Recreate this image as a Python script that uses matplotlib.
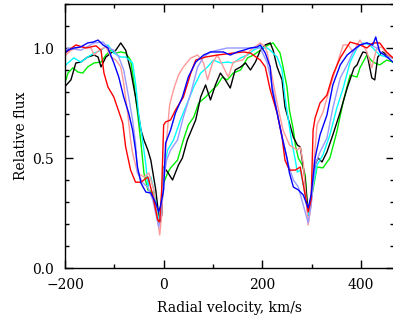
import numpy as np
import matplotlib
matplotlib.use('Agg')
from matplotlib import pyplot as plt
from matplotlib.ticker import MultipleLocator

# spectra: radial velocity (km/s) and relative flux
v_red = [-198, -178, -158, -137, -127, -121, -113, -101, -83, -77, -67, -57, -46, -32, -22, -12, -8, -4, 0, 4,
         14, 24, 40, 55, 65, 85, 109, 141, 162, 176, 196, 206, 216, 230, 240, 246, 255, 267, 277, 285,
         293, 299, 303, 307, 317, 331, 343, 358, 378, 398, 412, 424, 438, 452, 465]
f_red = [0.98, 1.014, 1.0, 1.01, 0.99, 0.886, 0.823, 0.777, 0.659, 0.55, 0.445, 0.39, 0.39, 0.414, 0.33, 0.218, 0.21, 0.355, 0.65, 0.664,
         0.673, 0.718, 0.777, 0.886, 0.945, 0.959, 0.968, 0.977, 0.982, 0.977, 0.945, 0.914, 0.81, 0.705, 0.595, 0.49, 0.445, 0.445, 0.459, 0.355,
         0.255, 0.31, 0.627, 0.682, 0.75, 0.786, 0.877, 0.955, 1.027, 1.014, 1.0, 1.023, 1.023, 0.982, 0.955]

v_black = [-198, -188, -178, -168, -154, -141, -133, -127, -117, -107, -97, -87, -77, -67, -57, -46, -40, -32, -26, -16,
           -12, -8, -4, 0, 8, 18, 30, 38, 48, 65, 75, 85, 95, 105, 115, 125, 135, 145, 156, 166,
           176, 186, 196, 206, 216, 222, 230, 240, 246, 255, 263, 271, 277, 287, 293, 299, 307, 313, 321, 331,
           343, 358, 372, 386, 392, 398, 404, 412, 422, 428, 434, 444, 459, 465]
f_black = [0.83, 0.855, 0.932, 0.936, 0.959, 0.968, 0.959, 0.914, 0.959, 0.977, 0.99, 1.023, 0.99, 0.9, 0.777, 0.627, 0.582, 0.536, 0.49, 0.355,
           0.277, 0.205, 0.24, 0.459, 0.436, 0.4, 0.468, 0.5, 0.582, 0.673, 0.777, 0.832, 0.764, 0.832, 0.886, 0.855, 0.818, 0.9, 0.914, 0.932,
           0.9, 0.936, 0.99, 1.014, 1.023, 0.99, 0.914, 0.855, 0.732, 0.659, 0.595, 0.559, 0.55, 0.4, 0.24, 0.31, 0.468, 0.5, 0.482, 0.527,
           0.605, 0.709, 0.818, 0.91, 0.923, 0.955, 0.982, 0.977, 0.864, 0.855, 0.959, 0.982, 0.959, 0.955]

v_green = [-198, -194, -184, -174, -164, -154, -141, -127, -117, -107, -97, -87, -77, -67, -61, -53, -46, -40, -32, -20,
           -14, -10, -6, 0, 8, 14, 28, 40, 50, 61, 71, 85, 99, 109, 119, 129, 141, 156, 170, 182,
           196, 212, 222, 236, 242, 250, 255, 263, 267, 273, 281, 287, 293, 299, 311, 323, 337, 351, 364, 378,
           392, 398, 412, 424, 438, 452, 465]
f_green = [0.855, 0.886, 0.91, 0.891, 0.886, 0.914, 0.932, 0.936, 0.968, 0.99, 0.977, 0.982, 0.977, 0.945, 0.855, 0.705, 0.568, 0.432, 0.355, 0.341,
           0.286, 0.205, 0.24, 0.386, 0.432, 0.455, 0.49, 0.582, 0.65, 0.686, 0.75, 0.777, 0.81, 0.832, 0.868, 0.855, 0.886, 0.9, 0.955, 0.968,
           0.99, 1.014, 1.023, 0.977, 0.914, 0.823, 0.718, 0.627, 0.559, 0.5, 0.468, 0.423, 0.24, 0.31, 0.459, 0.455, 0.5, 0.618, 0.755, 0.877,
           0.868, 0.91, 0.968, 0.936, 0.923, 0.945, 0.936]

v_cyan = [-198, -194, -182, -168, -154, -141, -127, -113, -101, -87, -77, -63, -57, -51, -42, -36, -32, -26, -20, -10,
          -6, 0, 8, 20, 34, 48, 61, 75, 89, 101, 115, 129, 141, 156, 170, 182, 196, 210, 216, 230,
          240, 246, 252, 259, 267, 271, 277, 285, 293, 299, 311, 323, 337, 351, 364, 378, 392, 404, 418, 438,
          452, 465]
f_cyan = [0.923, 0.932, 0.955, 0.936, 0.959, 0.977, 0.99, 1.014, 0.977, 0.959, 0.959, 0.932, 0.84, 0.705, 0.568, 0.468, 0.368, 0.414, 0.355, 0.218,
          0.255, 0.445, 0.536, 0.582, 0.673, 0.75, 0.823, 0.886, 0.914, 0.945, 0.932, 0.936, 0.932, 0.955, 0.968, 0.99, 1.005, 1.0, 0.99, 0.959,
          0.9, 0.777, 0.686, 0.582, 0.49, 0.436, 0.445, 0.355, 0.24, 0.327, 0.468, 0.514, 0.605, 0.727, 0.818, 0.936, 1.0, 1.023, 1.014, 0.968,
          0.959, 0.955]

v_blue = [-198, -194, -182, -168, -154, -143, -133, -123, -113, -101, -91, -81, -71, -63, -57, -53, -46, -36, -26, -16,
          -10, -6, 0, 4, 14, 24, 38, 50, 65, 81, 95, 109, 121, 135, 149, 162, 176, 190, 196, 206,
          216, 220, 230, 240, 250, 255, 263, 273, 283, 293, 299, 307, 317, 331, 343, 358, 372, 384, 398, 412,
          424, 430, 438, 448, 465]
f_blue = [0.982, 0.99, 1.0, 1.005, 1.023, 1.027, 1.036, 1.014, 1.0, 0.932, 0.868, 0.777, 0.705, 0.627, 0.536, 0.459, 0.386, 0.345, 0.341, 0.295,
          0.255, 0.286, 0.355, 0.568, 0.627, 0.705, 0.777, 0.868, 0.936, 0.968, 0.982, 0.982, 0.982, 0.968, 0.982, 0.99, 1.0, 1.005, 1.014, 0.977,
          0.914, 0.81, 0.705, 0.595, 0.5, 0.432, 0.368, 0.355, 0.332, 0.273, 0.332, 0.5, 0.605, 0.695, 0.832, 0.923, 0.968, 0.99, 1.014, 1.023,
          1.014, 1.05, 0.982, 0.968, 0.936]

v_pink = [-198, -188, -168, -147, -141, -131, -117, -107, -97, -87, -81, -73, -67, -63, -53, -40, -30, -20, -8, -4,
          0, 6, 12, 20, 30, 40, 55, 69, 81, 89, 99, 109, 121, 131, 141, 160, 176, 196, 206, 210,
          220, 230, 242, 255, 271, 277, 283, 293, 299, 303, 311, 323, 337, 351, 364, 374, 384, 398, 412, 422,
          432, 442, 454, 465]
f_pink = [0.968, 0.99, 1.005, 1.0, 0.968, 0.99, 1.005, 0.959, 0.945, 0.914, 0.84, 0.705, 0.582, 0.523, 0.432, 0.414, 0.432, 0.355, 0.15, 0.24,
          0.423, 0.582, 0.741, 0.81, 0.877, 0.914, 0.955, 0.968, 0.932, 0.855, 0.932, 0.968, 0.914, 0.868, 0.936, 0.945, 0.99, 1.023, 1.005, 0.977,
          0.868, 0.75, 0.627, 0.559, 0.536, 0.55, 0.477, 0.195, 0.286, 0.432, 0.65, 0.709, 0.818, 0.923, 1.014, 1.014, 0.982, 1.036, 0.982, 0.91,
          1.0, 1.005, 0.968, 0.955]

v_lav = [-198, -194, -168, -141, -123, -111, -101, -91, -81, -71, -63, -57, -53, -42, -32, -22, -10, -6, 0, 6,
         14, 28, 40, 55, 69, 81, 95, 109, 129, 149, 176, 196, 210, 222, 232, 242, 252, 263, 273, 293,
         299, 307, 317, 331, 343, 358, 372, 384, 398, 412, 432, 452, 465]
f_lav = [0.99, 1.0, 0.99, 1.023, 1.027, 1.0, 0.99, 0.959, 0.9, 0.777, 0.673, 0.568, 0.432, 0.386, 0.368, 0.309, 0.186, 0.24, 0.4, 0.49,
         0.536, 0.582, 0.686, 0.795, 0.914, 0.959, 0.982, 0.99, 1.0, 1.0, 1.0, 1.0, 0.932, 0.81, 0.686, 0.582, 0.477, 0.4, 0.368, 0.205,
         0.286, 0.468, 0.527, 0.59, 0.727, 0.864, 0.923, 0.982, 1.014, 1.023, 1.0, 0.959, 0.955]

spectra = [(v_green, f_green, '#00ee00'),
           (v_black, f_black, 'black'),
           (v_cyan, f_cyan, '#00ffff'),
           (v_pink, f_pink, '#ff9999'),
           (v_lav, f_lav, '#9999ff'),
           (v_red, f_red, 'red'),
           (v_blue, f_blue, 'blue')]

plt.rcParams['font.family'] = 'DejaVu Serif'

fig = plt.figure(figsize=(3.93, 3.25), dpi=100)
ax = fig.add_axes([65/393, 57/325, 329/393, 264/325])

for v, f, c in spectra:
    ax.plot(v, f, color=c, lw=1.0)

ax.set_xlim(-200, 467)
ax.set_ylim(0, 1.2)
ax.xaxis.set_major_locator(MultipleLocator(200))
ax.xaxis.set_minor_locator(MultipleLocator(100))
ax.yaxis.set_major_locator(MultipleLocator(0.5))
ax.yaxis.set_minor_locator(MultipleLocator(0.1))
ax.yaxis.set_major_formatter(plt.FormatStrFormatter('%.1f'))
ax.tick_params(which='both', direction='in', top=True, right=True, labelsize=10, width=1.0)
ax.tick_params(which='major', length=6)
ax.tick_params(which='minor', length=3)
ax.tick_params(axis='x', pad=7)
ax.tick_params(axis='y', pad=8)
for s in ax.spines.values():
    s.set_linewidth(1.0)

ax.set_xlabel('Radial velocity, km/s', fontsize=10, labelpad=7)
ax.set_ylabel('Relative flux', fontsize=10, labelpad=3)

fig.savefig('out.png', dpi=100)
